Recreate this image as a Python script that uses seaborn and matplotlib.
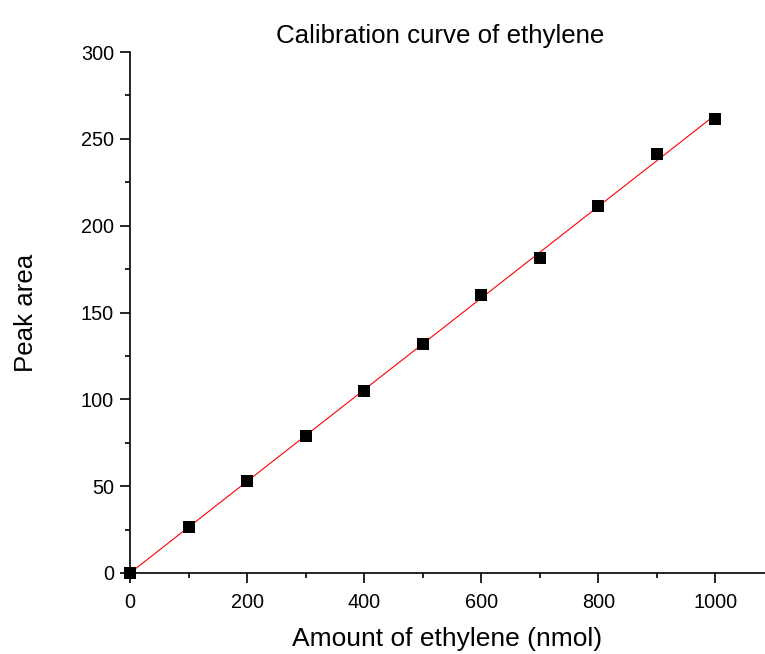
import numpy as np
import pandas as pd
import matplotlib
matplotlib.use("Agg")
import matplotlib.pyplot as plt
import seaborn as sns
from matplotlib.ticker import MultipleLocator

amount = [0, 100, 200, 300, 400, 500, 600, 700, 800, 900, 1000]
peak_area = [0, 26.5, 53, 78.9, 104.8, 131.9, 160.1, 181.4, 211.3, 241.3, 261.4]

df = pd.DataFrame({"amount": amount, "area": peak_area})

sns.set_style("ticks")
plt.rcParams["font.family"] = ["Liberation Sans", "DejaVu Sans"]
plt.rcParams["text.color"] = "black"
plt.rcParams["axes.labelcolor"] = "black"

fig = plt.figure(figsize=(7.65, 6.54), dpi=100)
ax = fig.add_axes([130/765, 81/654, 1 - 130/765, (573 - 52)/654])

slope, intercept = np.polyfit(df["amount"], df["area"], 1)
fit_x = np.array([min(amount), max(amount)])
fit_df = pd.DataFrame({"amount": fit_x, "area": slope * fit_x + intercept})
sns.lineplot(data=fit_df, x="amount", y="area", color="red", linewidth=0.8, ax=ax, zorder=2)
sns.scatterplot(data=df, x="amount", y="area", marker="s", color="black", s=64,
                edgecolor="black", linewidth=0, ax=ax, zorder=3, clip_on=False)

ax.set_xlim(0, 1085)
ax.set_ylim(0, 300)
ax.xaxis.set_major_locator(MultipleLocator(200))
ax.xaxis.set_minor_locator(MultipleLocator(100))
ax.yaxis.set_major_locator(MultipleLocator(50))
ax.yaxis.set_minor_locator(MultipleLocator(25))
ax.tick_params(which="major", direction="out", length=7, width=1.2, labelsize=14.3, colors="black")
ax.tick_params(which="minor", direction="out", length=3.6, width=1.2, colors="black")
ax.tick_params(axis="x", which="major", pad=7.5)
ax.tick_params(axis="y", which="major", pad=4.5)
for s in ["top", "right"]:
    ax.spines[s].set_visible(False)
for s in ["left", "bottom"]:
    ax.spines[s].set_linewidth(1.2)
    ax.spines[s].set_color("black")

ax.set_xlabel("Amount of ethylene (nmol)", fontsize=19, labelpad=11)
ax.set_ylabel("Peak area", fontsize=18.6, labelpad=31)
ax.set_title("Calibration curve of ethylene", fontsize=18.6, pad=6.5, x=0.489)

fig.savefig("out.png", dpi=100)
